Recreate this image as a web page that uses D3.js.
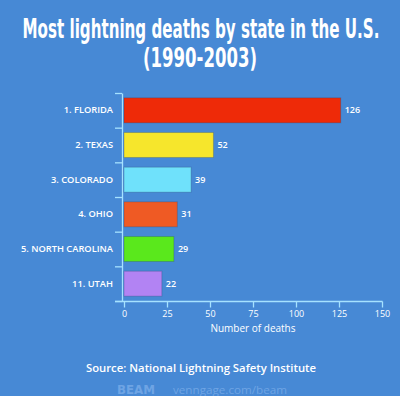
<!DOCTYPE html>
<html>
<head>
<meta charset="utf-8">
<script src="https://cdn.jsdelivr.net/npm/d3@7"></script>
<style>
    body { margin: 0; background: #4789d5; }
    svg { display: block; }
    .axis path, .axis line { stroke: #a6e2ff; stroke-width: 1.3; }
    .axis text { fill: #ffffff; font-family: 'Open Sans', sans-serif; }
</style>
</head>
<body>
<script>
// data
const states = ['1. FLORIDA', '2. TEXAS', '3. COLORADO', '4. OHIO', '5. NORTH CAROLINA', '11. UTAH'];
const deaths = [126, 52, 39, 31, 29, 22];
const barColors = ['#ee2a08', '#f6e62c', '#6fe1fb', '#ef5a24', '#5ae81c', '#b283f3'];
const xTicks = [0, 25, 50, 75, 100, 125, 150];

const data = states.map((s, i) => ({ state: s, deaths: deaths[i], color: barColors[i] }));

const width = 400;
const height = 396;

const svg = d3.select('body').append('svg')
    .attr('width', width)
    .attr('height', height);

svg.append('rect')
    .attr('width', width)
    .attr('height', height)
    .attr('fill', '#4789d5');

// titel: smal lettertype, verticaal uitgerekt
const title = svg.append('g')
    .attr('fill', '#ffffff')
    .attr('font-family', "'DejaVu Sans Condensed', 'Liberation Sans Narrow', sans-serif")
    .attr('font-weight', 'bold')
    .attr('font-size', 16)
    .attr('text-anchor', 'middle');

title.append('text')
    .attr('transform', 'translate(201,37.5) scale(1,1.62)')
    .attr('textLength', 357)
    .attr('lengthAdjust', 'spacingAndGlyphs')
    .text('Most lightning deaths by state in the U.S.');

title.append('text')
    .attr('transform', 'translate(200,67) scale(1,1.62)')
    .attr('textLength', 114)
    .attr('lengthAdjust', 'spacingAndGlyphs')
    .text('(1990-2003)');

// schalen
const xScale = d3.scaleLinear()
    .domain([0, 150])
    .range([124, 382]);

const yScale = d3.scaleBand()
    .domain(states)
    .range([93, 301])
    .paddingInner(0.28)
    .paddingOuter(0.14);

// y-as: lijn met streepjes op de grenzen van de banden
const yBounds = d3.scaleLinear()
    .domain([0, states.length])
    .range([93, 301]);

svg.append('g')
    .attr('class', 'axis')
    .attr('transform', 'translate(122,0)')
    .call(d3.axisLeft(yBounds).ticks(states.length).tickFormat('').tickSize(7).tickSizeOuter(0));

// namen van de staten
svg.append('g')
    .attr('class', 'axis labels')
    .attr('transform', 'translate(122,0)')
    .call(d3.axisLeft(yScale).tickSize(0).tickPadding(9))
    .call(g => g.select('.domain').remove())
    .selectAll('text')
    .attr('font-size', 9.3)
    .attr('font-weight', 600);

// x-as
const xAxis = svg.append('g')
    .attr('class', 'axis')
    .attr('transform', 'translate(0,301.5)')
    .call(d3.axisBottom(xScale).tickValues(xTicks).tickSize(6).tickSizeOuter(0).tickPadding(3));

xAxis.select('.domain').attr('d', 'M115,0H382.5');
xAxis.selectAll('text').attr('font-size', 9);

svg.append('text')
    .attr('x', 253).attr('y', 332)
    .attr('text-anchor', 'middle')
    .attr('fill', '#ffffff')
    .attr('font-family', "'Open Sans', sans-serif")
    .attr('font-size', 10)
    .text('Number of deaths');

// bars
svg.selectAll('rect.bar')
    .data(data)
    .enter()
    .append('rect')
    .attr('class', 'bar')
    .attr('x', xScale(0))
    .attr('y', d => yScale(d.state))
    .attr('width', d => xScale(d.deaths) - xScale(0))
    .attr('height', yScale.bandwidth())
    .attr('fill', d => d.color)
    .attr('stroke', 'rgba(40,60,90,0.25)')
    .attr('stroke-width', 1);

// waarden naast de bars
svg.selectAll('text.value')
    .data(data)
    .enter()
    .append('text')
    .attr('class', 'value')
    .attr('x', d => xScale(d.deaths) + 4)
    .attr('y', d => yScale(d.state) + yScale.bandwidth() / 2)
    .attr('dy', '0.35em')
    .attr('fill', '#ffffff')
    .attr('font-family', "'Open Sans', sans-serif")
    .attr('font-weight', 600)
    .attr('font-size', 9)
    .text(d => d.deaths);

// bron
svg.append('text')
    .attr('x', 201).attr('y', 371.5)
    .attr('text-anchor', 'middle')
    .attr('fill', '#ffffff')
    .attr('font-family', "'Open Sans', sans-serif")
    .attr('font-weight', 600)
    .attr('font-size', 11.3)
    .text('Source: National Lightning Safety Institute');

// watermerk
svg.append('text')
    .attr('x', 117).attr('y', 394)
    .attr('fill', '#6ea4e4')
    .attr('font-family', "'DejaVu Sans', sans-serif")
    .attr('font-weight', 'bold')
    .attr('font-size', 12)
    .attr('textLength', 38)
    .attr('lengthAdjust', 'spacingAndGlyphs')
    .text('BEAM');

svg.append('text')
    .attr('x', 173).attr('y', 394)
    .attr('fill', '#6ea4e4')
    .attr('font-family', "'Open Sans', sans-serif")
    .attr('font-size', 10.5)
    .attr('textLength', 114)
    .attr('lengthAdjust', 'spacingAndGlyphs')
    .text('venngage.com/beam');
</script>
</body>
</html>
